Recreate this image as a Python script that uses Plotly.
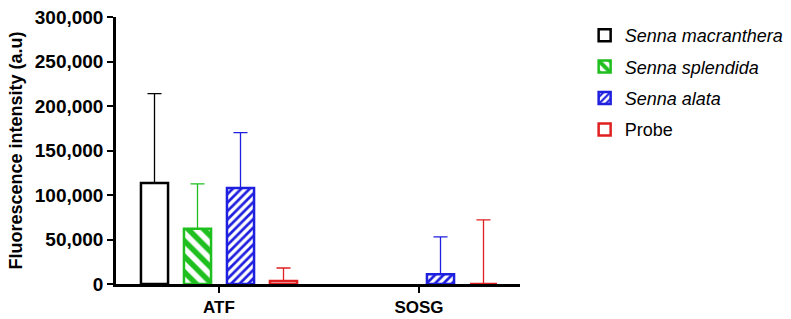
import plotly.graph_objects as go

categories = ["ATF", "SOSG"]
series_names = ["<i>Senna macranthera</i>", "<i>Senna splendida</i>", "<i>Senna alata</i>", "Probe"]
means = [
    [113500, None],
    [62000, None],
    [108000, 11000],
    [3500, 0],
]
err_plus = [
    [100500, 0],
    [50500, 0],
    [62000, 42000],
    [14500, 72000],
]
colors = ["#000000", "#1fbf1f", "#1f1fdf", "#e02020"]
patterns = [dict(shape=""), dict(shape="\\", size=11, solidity=0.5),
            dict(shape="/", size=6, solidity=0.45), dict(shape="")]

fig = go.Figure()
for i, (name, m, e, c, p) in enumerate(zip(series_names, means, err_plus, colors, patterns)):
    pat = dict(p)
    if pat["shape"]:
        pat.update(fgcolor=c, bgcolor="white", fillmode="overlay", fgopacity=1)
    fig.add_trace(go.Bar(
        x=categories, y=m, name=name, legendgroup=f"g{i}",
        marker=dict(color="white", line=dict(color=c, width=2.5), pattern=pat),
        error_y=dict(type="data", array=e, arrayminus=[0, 0], symmetric=False,
                     color=c, thickness=1.3, width=7),
    ))

fig.update_layout(
    barmode="group", bargap=0.14, bargroupgap=0.37,
    width=791, height=319,
    margin=dict(l=116, r=271, t=17, b=35, autoexpand=False),
    plot_bgcolor="white", paper_bgcolor="white",
    font=dict(family="Arial, Liberation Sans, sans-serif", color="black"),
    showlegend=True,
    legend=dict(x=1.16, y=1.0, xanchor="left", yanchor="top",
                font=dict(size=18), itemwidth=30, tracegroupgap=5,
                bgcolor="rgba(0,0,0,0)"),
)
fig.update_xaxes(
    range=[-0.515, 1.505], showline=True, linecolor="black", linewidth=2.5,
    ticks="outside", ticklen=6, tickwidth=2, tickcolor="black",
    tickfont=dict(size=17, weight="bold"),
    showgrid=False, zeroline=False, automargin=False,
)
fig.update_yaxes(
    range=[0, 300000], tickvals=[0, 50000, 100000, 150000, 200000, 250000, 300000],
    tickformat=",d", showline=True, linecolor="black", linewidth=2.5,
    ticks="outside", ticklen=6, tickwidth=2, tickcolor="black",
    tickfont=dict(size=19, weight="bold"),
    title=dict(text="Fluorescence intensity (a.u)", font=dict(size=18, weight="bold"), standoff=8),
    showgrid=False, zeroline=False, automargin=False,
)
fig.write_html("out.html", config={"displayModeBar": False},
               post_script="document.body.style.margin='0';document.body.style.overflow='hidden';")
